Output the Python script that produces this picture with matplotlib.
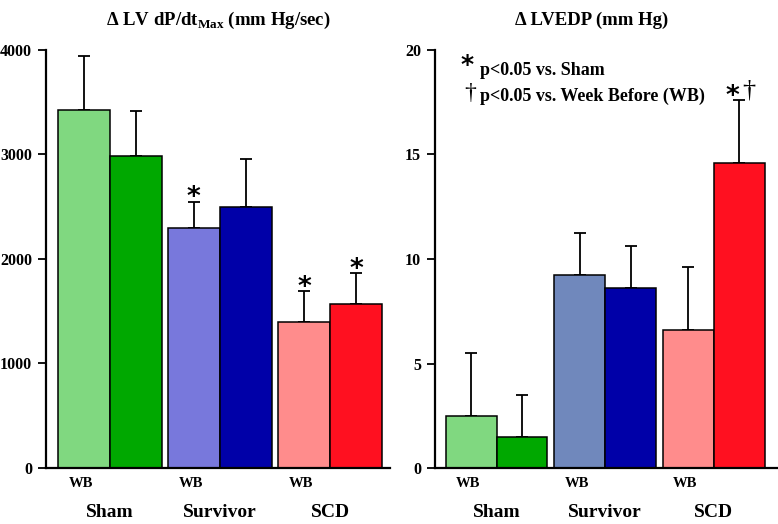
import matplotlib
matplotlib.use("Agg")
import matplotlib.pyplot as plt
import numpy as np

plt.rcParams['font.family'] = ['Liberation Serif', 'DejaVu Serif']
plt.rcParams['font.weight'] = 'bold'
plt.rcParams['mathtext.fontset'] = 'custom'
plt.rcParams['mathtext.rm'] = 'Liberation Serif:bold'
plt.rcParams['mathtext.bf'] = 'Liberation Serif:bold'

groups = ["Sham", "Survivor", "SCD"]

# dP/dt max: week before (WB) and after, with SEM
dpdt_wb = [3420, 2295, 1395]
dpdt_wb_err = [520, 250, 295]
dpdt = [2985, 2495, 1565]
dpdt_err = [430, 455, 300]
dpdt_sig_wb = ["", "*", "*"]
dpdt_sig = ["", "", "*"]

# LVEDP
lvedp_wb = [2.5, 9.25, 6.6]
lvedp_wb_err = [3.0, 2.0, 3.0]
lvedp = [1.5, 8.6, 14.6]
lvedp_err = [2.0, 2.0, 3.0]
lvedp_sig_wb = ["", "", ""]
lvedp_sig = ["", "", "*\u2020"]

colors_wb_left = ["#80d880", "#7878dc", "#ff8c8c"]
colors_wb_right = ["#80d880", "#7088bc", "#ff8c8c"]
colors = ["#00a800", "#0000a8", "#ff1020"]

fig = plt.figure(figsize=(7.78, 5.24), dpi=100)
W, H = 778, 524


def mark(ax, xs, y, s):
    # star / dagger above the error cap
    if "*" in s:
        dx = -5 if "\u2020" in s else 0
        ax.annotate("*", (xs, y), xytext=(dx, -7), textcoords="offset points",
                    ha="center", va="bottom", fontsize=19, family="DejaVu Sans",
                    fontweight="bold")
    if "\u2020" in s:
        ax.annotate("\u2020", (xs, y), xytext=(7, -1), textcoords="offset points",
                    ha="center", va="bottom", fontsize=19, fontweight="normal")


def panel(rect_px, xlim, bw, wb, wb_err, vals, errs, sig_wb, sig, cwb, ylim, yticks, title, title_x):
    x0, x1, ytop, ybot = rect_px
    ax = fig.add_axes([x0 / W, (H - ybot) / H, (x1 - x0) / W, (ybot - ytop) / H])
    x = np.arange(len(groups))
    ax.bar(x - bw / 2, wb, width=bw, color=cwb, edgecolor="black", linewidth=1.1, zorder=2)
    ax.bar(x + bw / 2, vals, width=bw, color=colors, edgecolor="black", linewidth=1.1, zorder=2)
    ax.errorbar(x - bw / 2, wb, yerr=[np.zeros(3), wb_err], fmt="none", ecolor="black",
                elinewidth=1.3, capsize=4.5, capthick=1.3, zorder=1)
    ax.errorbar(x + bw / 2, vals, yerr=[np.zeros(3), errs], fmt="none", ecolor="black",
                elinewidth=1.3, capsize=4.5, capthick=1.3, zorder=1)
    for xs, v, e, s in zip(x - bw / 2, wb, wb_err, sig_wb):
        if s:
            mark(ax, xs, v + e, s)
    for xs, v, e, s in zip(x + bw / 2, vals, errs, sig):
        if s:
            mark(ax, xs, v + e, s)
    ax.set_xlim(*xlim)
    ax.set_ylim(*ylim)
    ax.set_yticks(yticks)
    ax.set_xticks([])
    ax.tick_params(axis="y", length=6, width=1.3, labelsize=11.5, pad=4)
    for t in ax.get_yticklabels():
        t.set_fontweight("bold")
    for s in ["top", "right"]:
        ax.spines[s].set_visible(False)
    for s in ["left", "bottom"]:
        ax.spines[s].set_linewidth(1.6)
    tr = ax.get_xaxis_transform()
    for xi, g in zip(x, groups):
        ax.text(xi - bw / 2 - 0.03, -0.036, "WB", transform=tr, ha="center", va="center",
                fontsize=10.5, fontweight="bold")
        ax.text(xi, -0.107, g, transform=tr, ha="center", va="center",
                fontsize=14, fontweight="bold")
    fig.text(title_x / W, 1 - 20 / H, title, ha="center", va="center", fontsize=13.5,
             fontweight="bold")
    return ax


panel((46, 390, 49.5, 468), (-0.58, 2.545), 0.473, dpdt_wb, dpdt_wb_err, dpdt, dpdt_err,
      dpdt_sig_wb, dpdt_sig, colors_wb_left, (0, 4000), [0, 1000, 2000, 3000, 4000],
      r"$\Delta$ LV dP/dt$_{\mathrm{Max}}$ (mm Hg/sec)", 218)

panel((435, 778, 50, 468), (-0.566, 2.59), 0.468, lvedp_wb, lvedp_wb_err, lvedp, lvedp_err,
      lvedp_sig_wb, lvedp_sig, colors_wb_right, (0, 20), [0, 5, 10, 15, 20],
      "\u0394 LVEDP (mm Hg)", 592)

# key for the significance marks
fig.text(467 / W, 1 - 65 / H, "*", ha="center", va="center", fontsize=18, family="DejaVu Sans",
         fontweight="bold")
fig.text(480 / W, 1 - 70 / H, "p<0.05 vs. Sham", ha="left", va="center", fontsize=13,
         fontweight="bold")
fig.text(470 / W, 1 - 93 / H, "\u2020", ha="center", va="center", fontsize=17,
         fontweight="normal")
fig.text(480 / W, 1 - 96 / H, "p<0.05 vs. Week Before (WB)", ha="left", va="center", fontsize=13,
         fontweight="bold")

fig.savefig("out.png", dpi=100)
